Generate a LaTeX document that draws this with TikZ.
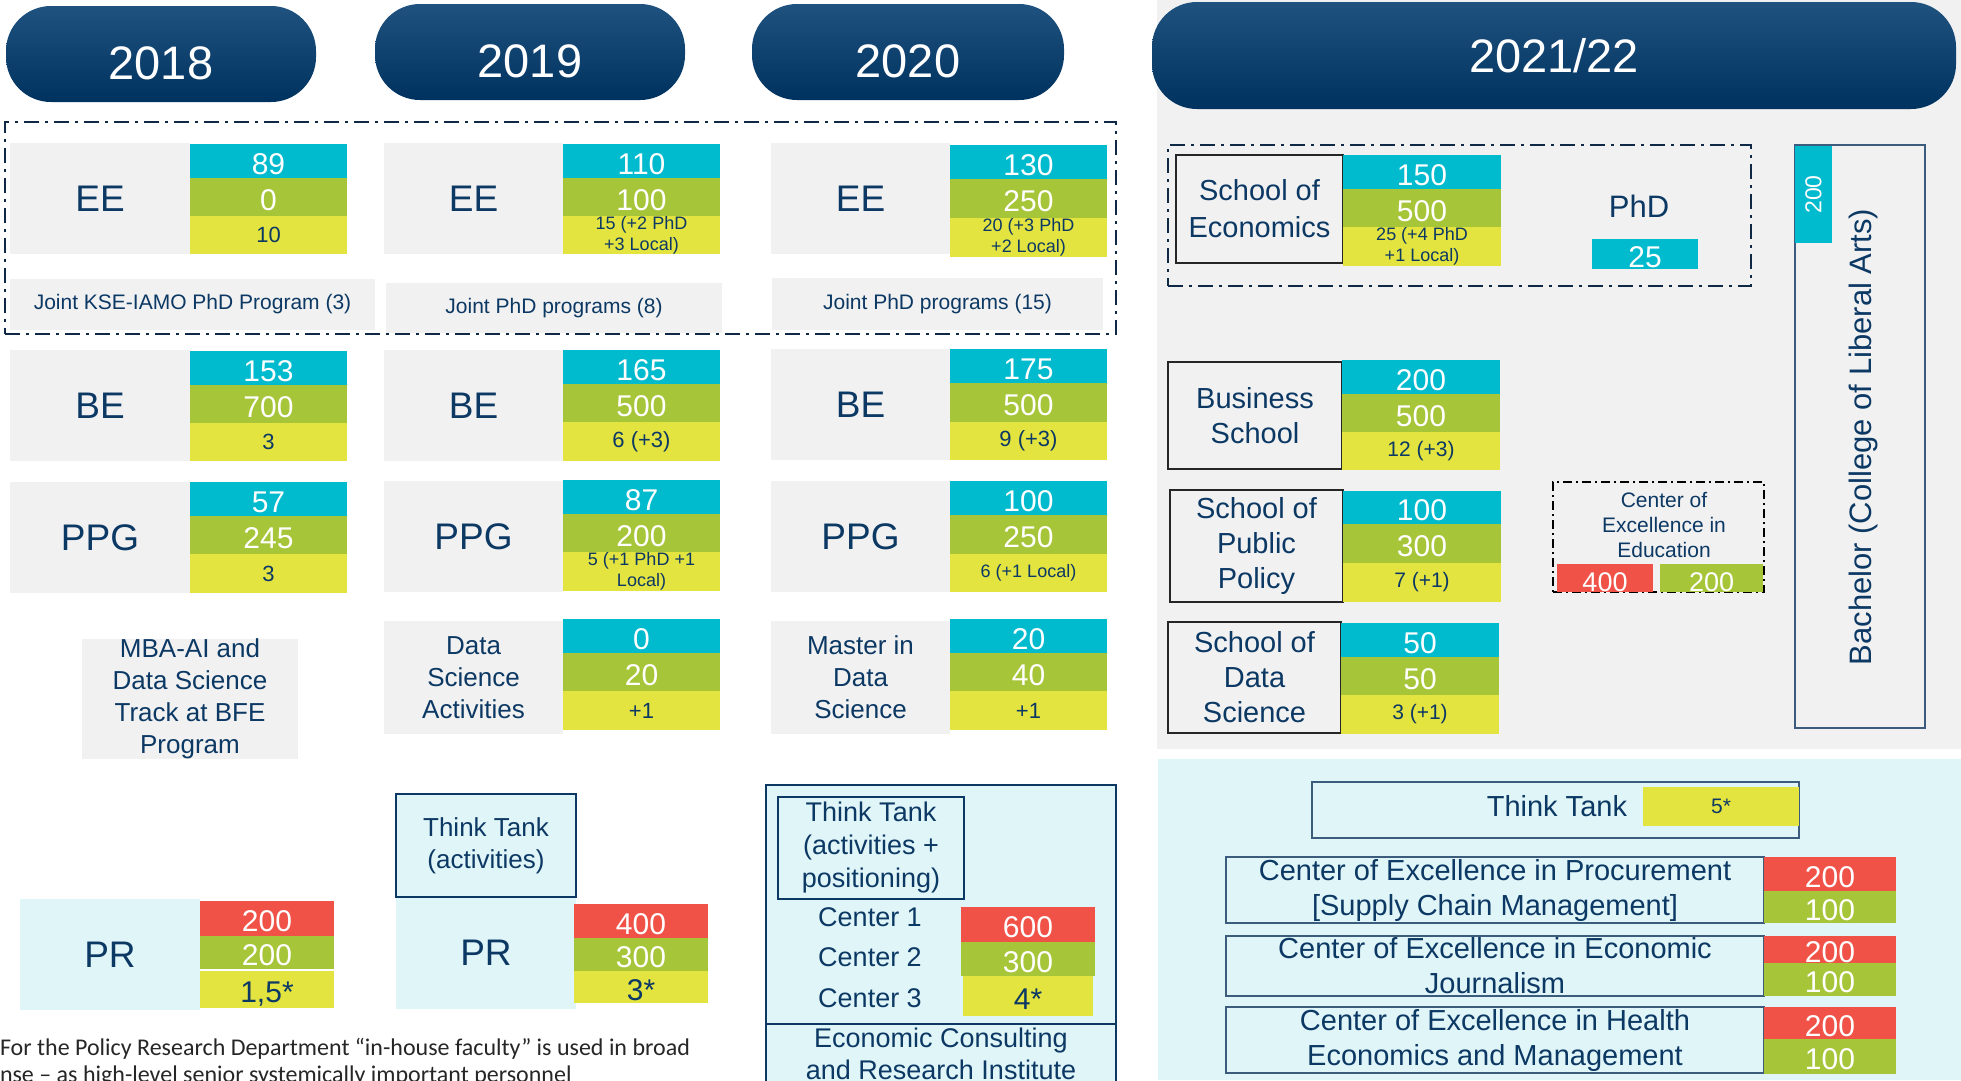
\documentclass[tikz,border=0pt]{standalone}
\usepackage{fontspec}
\setmainfont{Liberation Sans}
\newfontfamily\notefont{Carlito}
\usetikzlibrary{positioning}

\definecolor{ksenavy}{RGB}{12,56,100}
\definecolor{pilltop}{RGB}{32,82,128}
\definecolor{pillbot}{RGB}{0,50,96}
\definecolor{ksecyan}{RGB}{0,186,206}
\definecolor{ksegreen}{RGB}{167,197,57}
\definecolor{kseyellow}{RGB}{227,228,64}
\definecolor{ksered}{RGB}{240,82,72}
\definecolor{ksegrey}{RGB}{241,241,241}
\definecolor{kselight}{RGB}{224,245,248}
\definecolor{dashnavy}{RGB}{14,40,70}
\definecolor{slate}{RGB}{60,92,125}

\tikzset{
  every node/.style={inner sep=0pt, outer sep=0pt, text=ksenavy, align=center},
  wh/.style 2 args={anchor=north west, minimum width=#1, minimum height=#2},
  pill/.style={rounded corners=45pt, top color=pilltop, bottom color=pillbot, text=white, font=\fontsize{47}{50}\selectfont},
  lowyear/.style={text height=50pt, text depth=0pt},
  greybox/.style={fill=ksegrey},
  lightbox/.style={fill=kselight},
  numfont/.style={font=\fontsize{30}{32}\selectfont, text height=26pt, text depth=0pt},
  cyancell/.style={fill=ksecyan, text=white, numfont},
  greencell/.style={fill=ksegreen, text=white, numfont},
  redcell/.style={fill=ksered, text=white, numfont},
  yellowcell/.style={fill=kseyellow, font=\fontsize{22}{24}\selectfont},
  smalltext/.style={font=\fontsize{18}{21}\selectfont},
  bigtext/.style={font=\fontsize{37}{40}\selectfont},
  midtext/.style={font=\fontsize{26}{32}\selectfont},
  jointtext/.style={font=\fontsize{21}{24}\selectfont},
  schooltext/.style={font=\fontsize{29}{35}\selectfont},
  dashdot/.style={draw=dashnavy, line width=2.5pt, dash pattern=on 15pt off 6pt on 3pt off 6pt},
  navyframe/.style={draw=ksenavy, line width=2.5pt},
  blackframe/.style={draw=black!85, line width=2.5pt},
  slateframe/.style={draw=slate, line width=1.5pt},
}

\begin{document}
\begin{tikzpicture}[x=1pt, y=-1pt]
  \useasboundingbox (0,0) rectangle (1961,1080);
  \clip (0,0) rectangle (1961,1080);

  % panels of 2021/22
  \fill[ksegrey] (1157,0) rectangle (1961,749);
  \fill[kselight] (1158,759) rectangle (1961,1080);

  % years
  \node[wh={310}{96}, pill, lowyear] (y2018) at (6,6) {2018};
  \node[wh={310}{96}, pill, lowyear] (y2019) at (375,4) {2019};
  \node[wh={312}{96}, pill, lowyear] (y2020) at (752,4) {2020};
  \node[wh={804}{107}, pill] (y2021) at (1152,2) {2021/22};

  % EE
  \node[wh={180}{111}, greybox, bigtext] (ee18) at (10,143) {EE};
  \node[wh={157}{34}, cyancell] (ee18a) at (190,144) {89};
  \node[wh={157}{38}, greencell] (ee18b) at (190,178) {0};
  \node[wh={157}{38}, yellowcell] (ee18c) at (190,216) {10};
  \node[wh={365}{51}, greybox, jointtext] (joint18) at (10,279) {Joint KSE-IAMO PhD Program (3)};

  \node[wh={179}{111}, greybox, bigtext] (ee19) at (384,143) {EE};
  \node[wh={157}{34}, cyancell] (ee19a) at (563,144) {110};
  \node[wh={157}{38}, greencell] (ee19b) at (563,178) {100};
  \node[wh={157}{38}, yellowcell, smalltext] (ee19c) at (563,216) {15 (+2 PhD\\+3 Local)};
  \node[wh={336}{50}, greybox, jointtext] (joint19) at (386,283) {Joint PhD programs (8)};

  \node[wh={179}{111}, greybox, bigtext] (ee20) at (771,143) {EE};
  \node[wh={157}{34}, cyancell] (ee20a) at (950,145) {130};
  \node[wh={157}{39}, greencell] (ee20b) at (950,179) {250};
  \node[wh={157}{39}, yellowcell, smalltext] (ee20c) at (950,218) {20 (+3 PhD\\+2 Local)};
  \node[wh={331}{52}, greybox, jointtext] (joint20) at (772,278) {Joint PhD programs (15)};

  \node[wh={1111}{212}, dashdot] (eegroup) at (5,122) {};

  % BE
  \node[wh={180}{111}, greybox, bigtext] (be18) at (10,350) {BE};
  \node[wh={157}{34}, cyancell] (be18a) at (190,351) {153};
  \node[wh={157}{38}, greencell] (be18b) at (190,385) {700};
  \node[wh={157}{38}, yellowcell] (be18c) at (190,423) {3};

  \node[wh={179}{111}, greybox, bigtext] (be19) at (384,350) {BE};
  \node[wh={157}{34}, cyancell] (be19a) at (563,350) {165};
  \node[wh={157}{38}, greencell] (be19b) at (563,384) {500};
  \node[wh={157}{39}, yellowcell] (be19c) at (563,422) {6 (+3)};

  \node[wh={179}{111}, greybox, bigtext] (be20) at (771,349) {BE};
  \node[wh={157}{34}, cyancell] (be20a) at (950,349) {175};
  \node[wh={157}{39}, greencell] (be20b) at (950,383) {500};
  \node[wh={157}{38}, yellowcell] (be20c) at (950,422) {9 (+3)};

  % PPG
  \node[wh={180}{111}, greybox, bigtext] (ppg18) at (10,482) {PPG};
  \node[wh={157}{34}, cyancell] (ppg18a) at (190,482) {57};
  \node[wh={157}{38}, greencell] (ppg18b) at (190,516) {245};
  \node[wh={157}{39}, yellowcell] (ppg18c) at (190,554) {3};

  \node[wh={179}{111}, greybox, bigtext] (ppg19) at (384,481) {PPG};
  \node[wh={157}{34}, cyancell] (ppg19a) at (563,480) {87};
  \node[wh={157}{38}, greencell] (ppg19b) at (563,514) {200};
  \node[wh={157}{39}, yellowcell, smalltext] (ppg19c) at (563,552) {5 (+1 PhD +1\\Local)};

  \node[wh={179}{111}, greybox, bigtext] (ppg20) at (771,481) {PPG};
  \node[wh={157}{34}, cyancell] (ppg20a) at (950,481) {100};
  \node[wh={157}{39}, greencell] (ppg20b) at (950,515) {250};
  \node[wh={157}{38}, yellowcell, smalltext] (ppg20c) at (950,554) {6 (+1 Local)};

  % data science
  \node[wh={216}{113}, greybox, midtext] (mba18) at (82,639) {MBA-AI and\\Data Science\\Track at BFE\\Program};

  \node[wh={179}{113}, greybox, midtext] (ds19) at (384,621) {Data\\Science\\Activities};
  \node[wh={157}{34}, cyancell] (ds19a) at (563,619) {0};
  \node[wh={157}{38}, greencell] (ds19b) at (563,653) {20};
  \node[wh={157}{39}, yellowcell] (ds19c) at (563,691) {+1};

  \node[wh={179}{113}, greybox, midtext] (ds20) at (771,621) {Master in\\Data\\Science};
  \node[wh={157}{34}, cyancell] (ds20a) at (950,619) {20};
  \node[wh={157}{38}, greencell] (ds20b) at (950,653) {40};
  \node[wh={157}{39}, yellowcell] (ds20c) at (950,691) {+1};

  % PR and think tank
  \node[wh={180}{111}, lightbox, bigtext] (pr18) at (20,899) {PR};
  \node[wh={134}{35}, redcell] (pr18a) at (200,901) {200};
  \node[wh={134}{33}, greencell] (pr18b) at (200,936) {200};
  \node[wh={134}{37}, yellowcell, numfont] (pr18c) at (200,971) {1,5*};

  \node[wh={180}{112}, lightbox, bigtext] (pr19) at (396,897) {PR};
  \node[wh={180}{103}, lightbox, navyframe, midtext] (tt19) at (396,794) {Think Tank\\(activities)};
  \node[wh={134}{34}, redcell] (pr19a) at (574,904) {400};
  \node[wh={134}{33}, greencell] (pr19b) at (574,938) {300};
  \node[wh={134}{32}, yellowcell, numfont] (pr19c) at (574,971) {3*};

  \node[wh={350}{239}, lightbox, navyframe] (tt20box) at (766,785) {};
  \node[wh={186}{102}, navyframe, font=\fontsize{27}{33}\selectfont] (tt20) at (778,797) {Think Tank\\(activities +\\positioning)};
  \node[font=\fontsize{27}{30}\selectfont] (center1) at (870,917) {Center 1};
  \node[font=\fontsize{27}{30}\selectfont] (center2) at (870,957) {Center 2};
  \node[font=\fontsize{27}{30}\selectfont] (center3) at (870,998) {Center 3};
  \node[wh={134}{35}, redcell] (tt20a) at (961,907) {600};
  \node[wh={134}{34}, greencell] (tt20b) at (961,942) {300};
  \node[wh={130}{40}, yellowcell, numfont] (tt20c) at (963,976) {4*};
  \node[wh={350}{60}, lightbox, navyframe, font=\fontsize{27}{32}\selectfont] (ecri) at (766,1024) {Economic Consulting\\and Research Institute};

  \node[anchor=north west, align=left, text=black!85, font=\notefont\fontsize{24}{27}\selectfont] (note) at (0,1038)
    {For the Policy Research Department “in-house faculty” is used in broad\\nse – as high-level senior systemically important personnel};

  % 2021/22
  \node[wh={167}{108}, greybox, blackframe, font=\fontsize{29}{37}\selectfont] (soe) at (1176,155) {School of\\Economics};
  \node[wh={158}{34}, cyancell] (soea) at (1343,155) {150};
  \node[wh={158}{38}, greencell] (soeb) at (1343,189) {500};
  \node[wh={158}{39}, yellowcell, smalltext] (soec) at (1343,227) {25 (+4 PhD\\+1 Local)};
  \node[font=\fontsize{31}{33}\selectfont] (phd) at (1639,206) {PhD};
  \node[wh={106}{30}, cyancell] (phda) at (1592,239) {25};
  \node[wh={583}{141}, dashdot] (econgroup) at (1168,145) {};

  \node[wh={130}{583}, slateframe] (bachbox) at (1795,145) {};
  \node[fill=ksecyan, text=white, minimum width=97, minimum height=37, rotate=90, font=\fontsize{23}{25}\selectfont] (bacha) at (1813.5,194.5) {200};
  \node[rotate=90, font=\fontsize{31}{33}\selectfont] (bachelor) at (1863,437) {Bachelor (College of Liberal Arts)};

  \node[wh={174}{107}, greybox, blackframe, schooltext] (bs) at (1168,362) {Business\\School};
  \node[wh={158}{34}, cyancell] (bsa) at (1342,360) {200};
  \node[wh={158}{38}, greencell] (bsb) at (1342,394) {500};
  \node[wh={158}{38}, yellowcell, font=\fontsize{21}{23}\selectfont] (bsc) at (1342,432) {12 (+3)};

  \node[wh={173}{112}, greybox, blackframe, schooltext] (spp) at (1170,490) {School of\\Public\\Policy};
  \node[wh={158}{33}, cyancell] (sppa) at (1343,491) {100};
  \node[wh={158}{39}, greencell] (sppb) at (1343,524) {300};
  \node[wh={158}{39}, yellowcell, font=\fontsize{21}{23}\selectfont] (sppc) at (1343,563) {7 (+1)};

  \node[wh={173}{111}, greybox, blackframe, schooltext] (sds) at (1168,622) {School of\\Data\\Science};
  \node[wh={158}{34}, cyancell] (sdsa) at (1341,623) {50};
  \node[wh={158}{38}, greencell] (sdsb) at (1341,657) {50};
  \node[wh={158}{39}, yellowcell, font=\fontsize{21}{23}\selectfont] (sdsc) at (1341,695) {3 (+1)};

  \node[wh={211}{110}, draw=black, line width=2pt, dash pattern=on 9pt off 4pt on 2pt off 4pt] (coeedu) at (1553,482) {};
  \node[font=\fontsize{21}{25}\selectfont] (coeedutext) at (1664,525) {Center of\\Excellence in\\Education};
  \node[wh={96}{28}, redcell, font=\fontsize{27}{29}\selectfont] (coeedua) at (1557,564) {400};
  \node[wh={103}{28}, greencell, font=\fontsize{27}{29}\selectfont] (coeedub) at (1660,564) {200};

  \node[wh={487}{56}, slateframe] (tt21) at (1312,782) {};
  \node[wh={156}{39}, yellowcell, font=\fontsize{21}{23}\selectfont] (tt21a) at (1643,787) {5*};
  \node[font=\fontsize{29}{31}\selectfont, left=16pt of tt21a] (tt21text) {Think Tank};

  \node[wh={538}{66}, slateframe, schooltext] (coeproc) at (1226,857) {Center of Excellence in Procurement\\{[}Supply Chain Management{]}};
  \node[wh={132}{34}, redcell] (coeproca) at (1764,857) {200};
  \node[wh={132}{32}, greencell] (coeprocb) at (1764,891) {100};

  \node[wh={538}{60}, slateframe, schooltext] (coejour) at (1226,936) {Center of Excellence in Economic\\Journalism};
  \node[wh={132}{27}, redcell] (coejoura) at (1764,936) {200};
  \node[wh={132}{33}, greencell] (coejourb) at (1764,963) {100};

  \node[wh={538}{66}, slateframe, schooltext] (coehealth) at (1226,1007) {Center of Excellence in Health\\Economics and Management};
  \node[wh={132}{32}, redcell] (coehealtha) at (1764,1007) {200};
  \node[wh={132}{35}, greencell] (coehealthb) at (1764,1039) {100};
\end{tikzpicture}
\end{document}
